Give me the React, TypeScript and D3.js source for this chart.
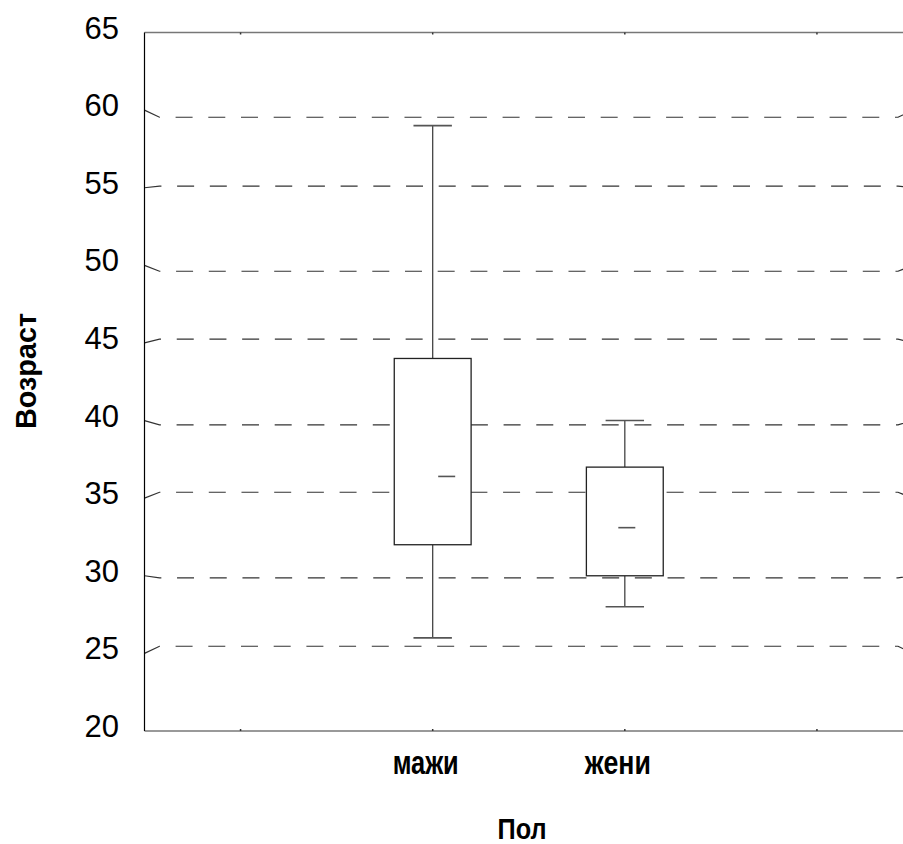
import React from "react";
import * as d3 from "d3";

// ---- data ----
const categories = ["мажи", "жени"];
const whiskerLow = [26, 28];
const q1 = [32, 30];
const medians = [36.4, 33.1];
const q3 = [44, 37];
const whiskerHigh = [59, 40];
const yTicks = [20, 25, 30, 35, 40, 45, 50, 55, 60, 65];
// gridline levels as drawn (slightly off from the tick values they belong to)
const gridTicks = [25, 30, 35, 40, 45, 50, 55, 60];
const gridLevels = [25.46, 29.86, 35.38, 39.72, 45.24, 49.62, 55.1, 59.54];
const yTitle = "Возраст";
const xTitle = "Пол";

const W = 903;
const H = 844;
const FONT = "'Liberation Sans', Arial, Helvetica, sans-serif";

export default function App() {
  const left = 144.5;
  const right = 913;
  const top = 32.5;
  const bottom = 731;
  const y = d3.scaleLinear().domain([20, 65]).range([bottom, top]);
  const x = d3
    .scalePoint<string>()
    .domain(["_a", ...categories, "_b"])
    .range([left, right])
    .padding(0.5);
  const step = x.step();
  const boxW = step * 0.4;
  const capW = boxW * 0.5;
  const medShift = [14, 2];
  const medLen = 17;
  const xTickPos = x.domain().map((d) => x(d) as number);

  return (
    <div style={{ position: "absolute", left: 0, top: 0 }}>
      <svg width={W} height={H} style={{ display: "block", background: "#fff" }}>
        {/* gridlines */}
        {gridTicks.map((t, i) => {
          const ty = y(t);
          const gy = y(gridLevels[i]);
          const p = d3.path();
          p.moveTo(left, ty);
          p.lineTo(left + 15, gy);
          p.lineTo(right - 15, gy);
          p.lineTo(right, ty);
          return (
            <path
              key={t}
              d={p.toString()}
              fill="none"
              stroke="#333"
              strokeWidth={1.2}
              strokeDasharray="17 15.7"
            />
          );
        })}
        {/* frame */}
        <line x1={left} x2={right} y1={top} y2={top} stroke="#777" strokeWidth={1.5} />
        <line x1={left} x2={right} y1={bottom} y2={bottom} stroke="#777" strokeWidth={1.5} />
        <line x1={left} x2={left} y1={top} y2={bottom} stroke="#000" strokeWidth={1.2} />
        {xTickPos.map((px, i) => (
          <g key={i}>
            <line x1={px} x2={px} y1={top} y2={top + 2} stroke="#333" strokeWidth={1.5} />
            <line x1={px} x2={px} y1={bottom} y2={bottom - 2} stroke="#333" strokeWidth={1.5} />
          </g>
        ))}
        {/* y tick labels */}
        {yTicks.map((t) => (
          <text
            key={t}
            x={119}
            y={y(t) + 6}
            textAnchor="end"
            fontFamily={FONT}
            fontSize={31}
            fill="#000"
          >
            {t}
          </text>
        ))}
        {/* boxes */}
        {categories.map((c, i) => {
          const cx = x(c) as number;
          return (
            <g key={c} stroke="#444" strokeWidth={1.3} fill="none">
              <line x1={cx} x2={cx} y1={y(whiskerHigh[i])} y2={y(q3[i])} />
              <line x1={cx} x2={cx} y1={y(q1[i])} y2={y(whiskerLow[i])} />
              <line
                x1={cx - capW / 2}
                x2={cx + capW / 2}
                y1={y(whiskerHigh[i])}
                y2={y(whiskerHigh[i])}
                stroke="#555"
                strokeWidth={1.6}
              />
              <line
                x1={cx - capW / 2}
                x2={cx + capW / 2}
                y1={y(whiskerLow[i])}
                y2={y(whiskerLow[i])}
                stroke="#555"
                strokeWidth={1.6}
              />
              <rect
                x={cx - boxW / 2}
                y={y(q3[i])}
                width={boxW}
                height={y(q1[i]) - y(q3[i])}
                fill="#fff"
                stroke="#222"
              />
              <line
                x1={cx + medShift[i] - medLen / 2}
                x2={cx + medShift[i] + medLen / 2}
                y1={y(medians[i])}
                y2={y(medians[i])}
                stroke="#555"
                strokeWidth={1.6}
              />
            </g>
          );
        })}
        {/* category labels */}
        {categories.map((c) => (
          <text
            key={c}
            x={(x(c) as number) - 7}
            y={774}
            textAnchor="middle"
            fontFamily={FONT}
            fontWeight="bold"
            fontSize={34}
            textLength={66}
            lengthAdjust="spacingAndGlyphs"
            fill="#000"
          >
            {c}
          </text>
        ))}
        {/* axis titles */}
        <text
          x={522}
          y={839}
          textAnchor="middle"
          fontFamily={FONT}
          fontWeight="bold"
          fontSize={30}
          textLength={49}
          lengthAdjust="spacingAndGlyphs"
          fill="#000"
        >
          {xTitle}
        </text>
        <text
          transform={`translate(36,371) rotate(-90)`}
          textAnchor="middle"
          fontFamily={FONT}
          fontWeight="bold"
          fontSize={30}
          textLength={116}
          lengthAdjust="spacingAndGlyphs"
          fill="#000"
        >
          {yTitle}
        </text>
      </svg>
    </div>
  );
}
